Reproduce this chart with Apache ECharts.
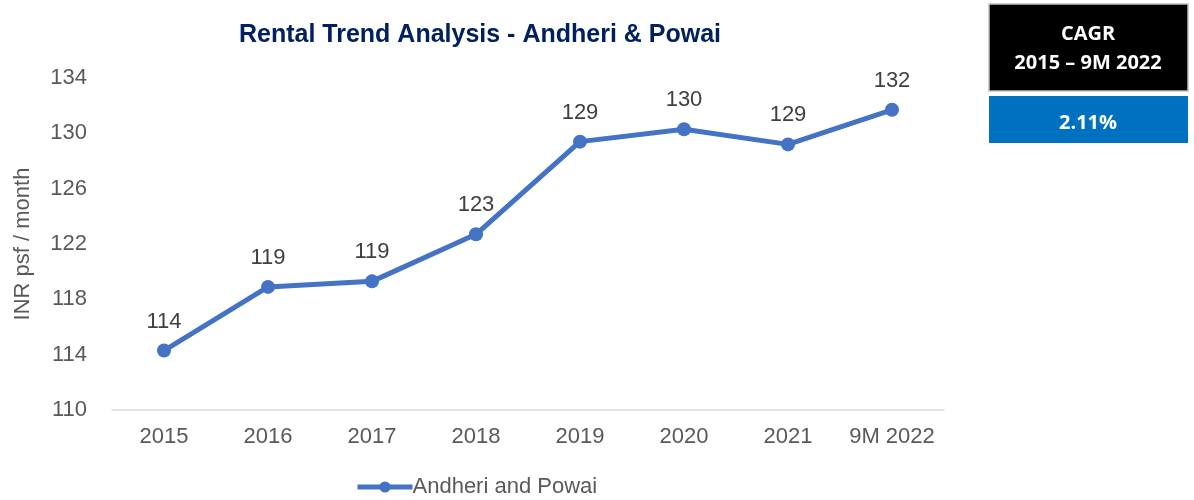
<!DOCTYPE html>
<html>
<head>
<meta charset="utf-8">
<script src="https://cdn.jsdelivr.net/npm/echarts@6/dist/echarts.min.js"></script>
<style>
  html, body { margin: 0; padding: 0; background: #fff; }
  #main { width: 1194px; height: 500px; }
</style>
</head>
<body>
<div id="main"></div>
<script>
var categories = ['2015', '2016', '2017', '2018', '2019', '2020', '2021', '9M 2022'];
var rentValues = [114.3, 118.9, 119.3, 122.7, 129.4, 130.3, 129.2, 131.7];
var seriesName = 'Andheri and Powai';
var cagrTitle = ['CAGR', '2015 \u2013 9M 2022'];
var cagrValue = '2.11%';

var chart = echarts.init(document.getElementById('main'));
var option = {
    animation: false,
    title: {
        text: 'Rental Trend Analysis - Andheri & Powai',
        left: 475,
        textAlign: 'center',
        top: 18,
        textStyle: {
            fontFamily: 'Liberation Sans, Arial',
            fontSize: 25,
            fontWeight: 'bold',
            color: '#002060'
        }
    },
    grid: {
        left: 112,
        right: 250,
        top: 78,
        bottom: 90
    },
    legend: {
        top: 476,
        left: 355,
        padding: 0,
        itemWidth: 55,
        itemHeight: 14,
        itemGap: 0,
        lineStyle: { width: 5 },
        textStyle: {
            fontFamily: 'Liberation Sans, Arial',
            fontSize: 22,
            color: '#595959',
            padding: [0, 0, 0, -5]
        },
        data: [seriesName]
    },
    xAxis: {
        type: 'category',
        data: categories,
        axisLine: { lineStyle: { color: '#d9d9d9', width: 1.5 } },
        axisTick: { show: false },
        axisLabel: {
            interval: 0,
            hideOverlap: false,
            fontFamily: 'Liberation Sans, Arial',
            fontSize: 22,
            color: '#595959',
            margin: 16
        }
    },
    yAxis: {
        type: 'value',
        min: 110,
        max: 134,
        interval: 4,
        name: 'INR psf / month',
        nameLocation: 'middle',
        nameGap: 78,
        nameTextStyle: {
            fontFamily: 'Liberation Sans, Arial',
            fontSize: 22,
            color: '#595959'
        },
        axisLine: { show: false },
        axisTick: { show: false },
        splitLine: { show: false },
        axisLabel: {
            fontFamily: 'Liberation Sans, Arial',
            fontSize: 22,
            color: '#595959',
            margin: 25
        }
    },
    series: [
        {
            name: seriesName,
            type: 'line',
            data: rentValues,
            symbol: 'circle',
            symbolSize: 14,
            lineStyle: { color: '#4472C4', width: 5 },
            itemStyle: { color: '#4472C4' },
            label: {
                show: true,
                position: 'top',
                distance: 11,
                fontFamily: 'Liberation Sans, Arial',
                fontSize: 22,
                color: '#404040',
                formatter: function (p) { return Math.round(p.value); }
            }
        }
    ],
    graphic: [
        {
            type: 'rect',
            shape: { x: 989, y: 4, width: 199, height: 87 },
            style: { fill: '#000', stroke: '#bfbfbf', lineWidth: 1.5 }
        },
        {
            type: 'text',
            x: 1088, y: 20,
            style: {
                text: cagrTitle.join('\n'),
                fill: '#fff',
                font: 'bold 20px "Open Sans", Lato, sans-serif',
                align: 'center',
                verticalAlign: 'top',
                lineHeight: 29
            }
        },
        {
            type: 'rect',
            shape: { x: 989, y: 96, width: 199, height: 47 },
            style: { fill: '#0070C0' }
        },
        {
            type: 'text',
            x: 1088, y: 123,
            style: {
                text: cagrValue,
                fill: '#fff',
                font: 'bold 20px "Open Sans", Lato, sans-serif',
                align: 'center',
                verticalAlign: 'middle'
            }
        }
    ]
};
chart.setOption(option);
</script>
</body>
</html>
